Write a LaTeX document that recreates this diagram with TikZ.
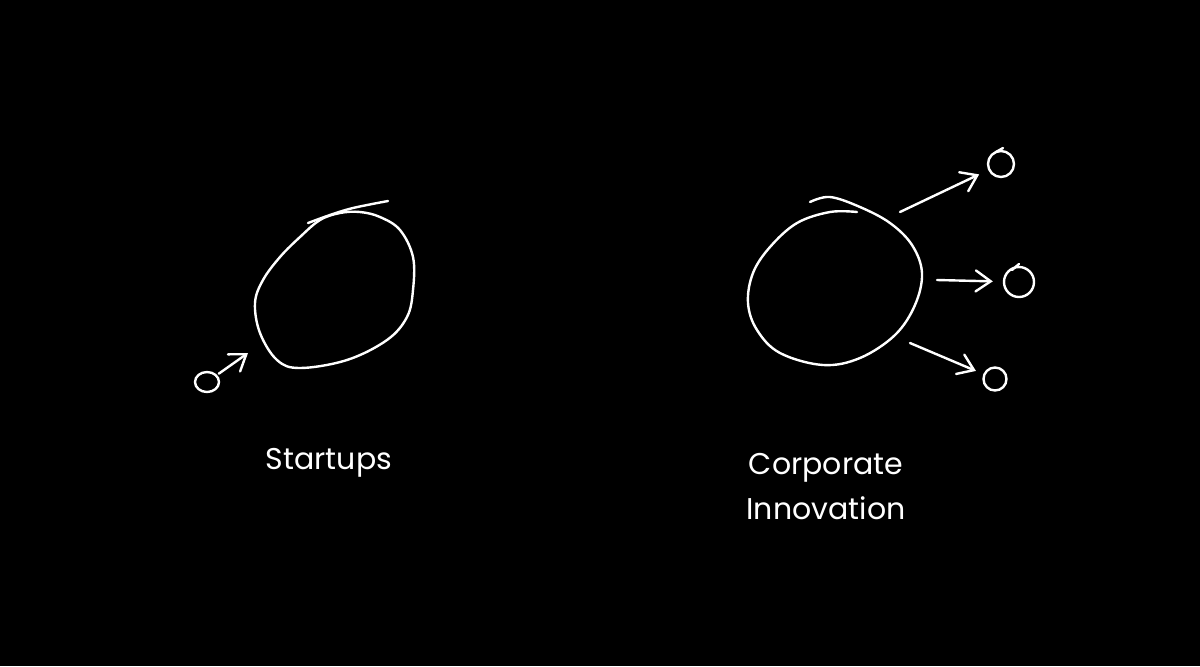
\documentclass[tikz,border=0pt]{standalone}
\usepackage{fontspec}
\setmainfont{Poppins}
\usetikzlibrary{positioning,arrows.meta,shapes.geometric}

\begin{document}
\begin{tikzpicture}[x=0.5pt,y=-0.5pt,
    chalk/.style={white,line width=1.2pt,line cap=round,line join=round},
    pebble/.style={chalk,draw,ellipse,inner sep=0pt},
    arr/.style={chalk,-{Straight Barb[length=7.5pt,width=10.5pt,line cap=round]}},
    label/.style={text=white,font=\fontsize{15}{22.5}\selectfont,align=center}]
    \fill[black] (0,0) rectangle (1200,666);
    \useasboundingbox (0,0) rectangle (1200,666);
    %%%%% STARTUPS
    \draw[chalk] plot[smooth cycle,tension=0.6] coordinates {(360,212) (380,217) (400,230)
      (413,257) (413,290) (407,317) (387,340) (347,360) (300,368) (277,360) (260,333)
      (255,303) (263,280) (280,257) (300,237) (320,220) (340,213)};
    \draw[chalk] plot[smooth,tension=0.6] coordinates {(308,223) (330,215) (353,208) (388,201)};
    \coordinate (S-in) at (248,353);
    \node[pebble,minimum width=12pt,minimum height=10pt] (S-1) at (207,382) {};
    \draw[arr,shorten <=1pt] (S-1) -- (S-in);
    \node[label] (STARTUPS) at (329,463) {Startups};
    %%%%% CORPORATE INNOVATION
    \draw[chalk] plot[smooth,tension=0.6] coordinates {(857,212) (830,212) (797,223)
      (770,247) (753,273) (748,303) (757,330) (780,353) (823,365) (860,358) (895,335)
      (915,305) (922,273) (912,245) (890,223) (860,207) (830,197) (810,202)};
    \coordinate (C-out1) at (900,212);
    \coordinate (C-out2) at (937,280);
    \coordinate (C-out3) at (910,343);
    \node[pebble,minimum width=13pt,minimum height=13pt] (C-1) at (1001,164) {};
    \node[pebble,minimum width=15pt,minimum height=15pt] (C-2) at (1019,282) {};
    \node[pebble,minimum width=11.5pt,minimum height=11.5pt] (C-3) at (995,379) {};
    \draw[chalk] (996,152) -- (1003,148);
    \draw[chalk] (1012,270) -- (1019,264);
    \draw[arr,shorten >=5pt] (C-out1) -- (C-1);
    \draw[arr,shorten >=5pt] (C-out2) -- (C-2);
    \draw[arr,shorten >=4pt] (C-out3) -- (C-3);
    \node[label] (CORPORATE) at (826,487) {Corporate\\Innovation};
\end{tikzpicture}
\end{document}
